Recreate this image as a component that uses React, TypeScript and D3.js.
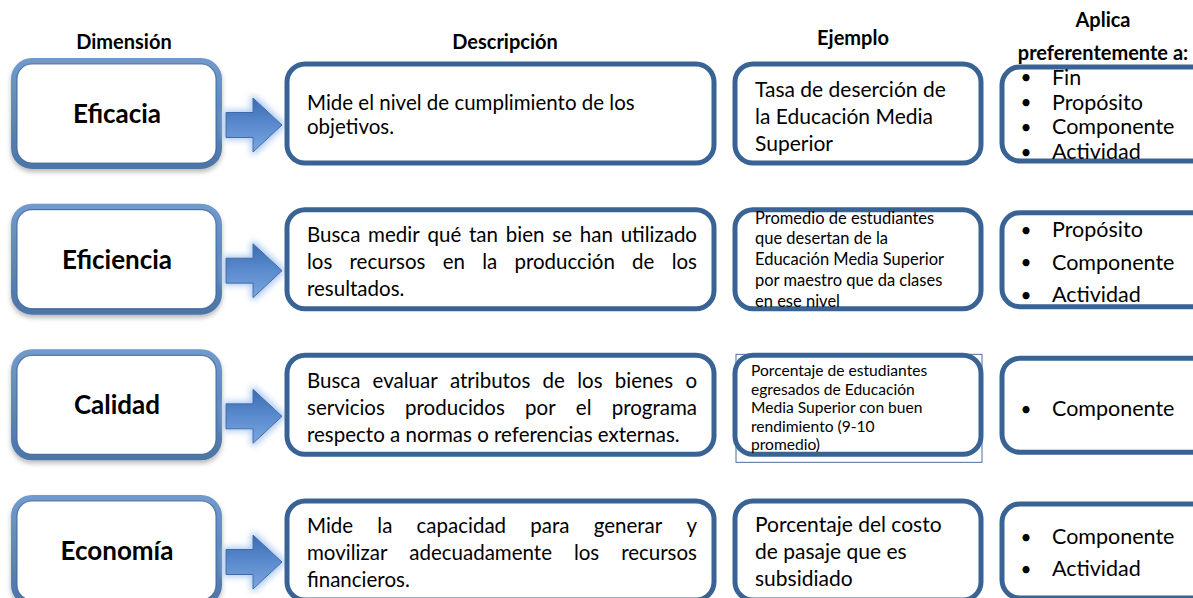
import React from "react";
import * as d3 from "d3";

const headers = [
  { lines: ["Dimensión"], x: 124, y: [41], anchor: ["middle"] },
  { lines: ["Descripción"], x: 505, y: [41], anchor: ["middle"] },
  { lines: ["Ejemplo"], x: 853, y: [37], anchor: ["middle"] },
  { lines: ["Aplica", "preferentemente a:"], x: 1103, y: [19, 52], anchor: ["middle", "middle"] },
];

const dimensions = ["Eficacia", "Eficiencia", "Calidad", "Economía"];

const descriptions = [
  ["Mide el nivel de cumplimiento de los", "objetivos."],
  ["Busca medir qué tan bien se han utilizado", "los recursos en la producción de los", "resultados."],
  ["Busca evaluar atributos de los bienes o", "servicios producidos por el programa", "respecto a normas o referencias externas."],
  ["Mide la capacidad para generar y", "movilizar adecuadamente los recursos", "financieros."],
];
const descJustified = [false, true, true, true];

const examples = [
  ["Tasa de deserción de", "la Educación Media", "Superior"],
  ["Promedio de estudiantes", "que desertan de la", "Educación Media Superior", "por maestro que da clases", "en ese nivel"],
  ["Porcentaje de estudiantes", "egresados de Educación", "Media Superior con buen", "rendimiento (9-10", "promedio)"],
  ["Porcentaje del costo", "de pasaje que es", "subsidiado"],
];

const appliesTo = [
  ["Fin", "Propósito", "Componente", "Actividad"],
  ["Propósito", "Componente", "Actividad"],
  ["Componente"],
  ["Componente", "Actividad"],
];

// layout styling
const FONT = "Lato, 'Open Sans', sans-serif";
const descStyle = [
  { c: 54, s: 24 },
  { c: 55, s: 27 },
  { c: 56, s: 27 },
  { c: 55, s: 27 },
];
const exStyle = [
  { c: 55, s: 27, size: 21, x: 755 },
  { c: 53.5, s: 20.7, size: 16.5, x: 755 },
  { c: 56, s: 18.5, size: 15.6, x: 751 },
  { c: 53, s: 27, size: 21, x: 755 },
];
const apStyle = [
  { c: 54, s: 24.7 },
  { c: 56, s: 32.5 },
  { c: 57, s: 0 },
  { c: 55, s: 32 },
];

let ctx: CanvasRenderingContext2D | null = null;
function measure(text: string, size: number, weight = "normal") {
  if (!ctx) ctx = document.createElement("canvas").getContext("2d");
  if (!ctx) return text.length * size * 0.5;
  ctx.font = `${weight} ${size}px Lato`;
  return ctx.measureText(text).width;
}

function JustLine({ text, x, y, width, size, justify }: any) {
  const w = measure(text, size);
  const words = text.split(" ");
  if (justify && words.length > 1 && w < width) {
    const ws = words.map((t: string) => measure(t, size));
    const total = d3.sum(ws);
    const gap = (width - total) / (words.length - 1);
    let cx = x;
    return (
      <g>
        {words.map((t: string, i: number) => {
          const el = (
            <text key={i} x={cx} y={y} fontSize={size} dominantBaseline="central">
              {t}
            </text>
          );
          cx += ws[i] + gap;
          return el;
        })}
      </g>
    );
  }
  return (
    <text
      x={x}
      y={y}
      fontSize={size}
      dominantBaseline="central"
      {...(w > width ? { textLength: width, lengthAdjust: "spacingAndGlyphs" } : {})}
    >
      {text}
    </text>
  );
}

export default function App() {
  const W = 1193;
  const H = 598;
  const rowY = d3.scaleLinear().domain([0, 3]).range([60, 497]);
  const stroke = "#3a6395";

  return (
    <div style={{ position: "absolute", left: 0, top: 0, width: W, height: H, overflow: "hidden", background: "#fff" }}>
      <svg width={W} height={H} style={{ display: "block", fontFamily: FONT }}>
        <defs>
          <filter id="shadow" x="-10%" y="-10%" width="120%" height="130%">
            <feDropShadow dx="0" dy="3" stdDeviation="2.5" floodColor="#000" floodOpacity="0.28" />
          </filter>
          <filter id="glow" x="-40%" y="-40%" width="180%" height="180%">
            <feMorphology in="SourceAlpha" operator="dilate" radius="2" result="d" />
            <feGaussianBlur in="d" stdDeviation="3" result="b" />
            <feFlood floodColor="#a9c8f0" floodOpacity="0.95" />
            <feComposite in2="b" operator="in" result="g" />
            <feMerge>
              <feMergeNode in="g" />
              <feMergeNode in="SourceGraphic" />
            </feMerge>
          </filter>
          <linearGradient id="arrowGrad" x1="0" y1="0" x2="0" y2="1">
            <stop offset="0" stopColor="#3c6cb0" />
            <stop offset="0.5" stopColor="#5b8bcf" />
            <stop offset="1" stopColor="#7ba7df" />
          </linearGradient>
          <linearGradient id="dimStroke" x1="0" y1="0" x2="0" y2="1">
            <stop offset="0" stopColor="#7099cc" />
            <stop offset="1" stopColor="#4d75a8" />
          </linearGradient>
        </defs>

        {headers.map((h, i) =>
          h.lines.map((l, j) => (
            <text
              key={`h${i}-${j}`}
              x={h.x}
              y={h.y[j]}
              textAnchor={h.anchor[j]}
              dominantBaseline="central"
              fontWeight="bold"
              fontSize={20}
              fill="#000"
            >
              {l}
            </text>
          ))
        )}

        {dimensions.map((d, i) => {
          const top = rowY(i);
          const ay = top + 65;
          const arrow = `M226,${ay - 12.5} L253,${ay - 12.5} L253,${ay - 27} L282,${ay} L253,${ay + 27} L253,${ay + 12.5} L226,${ay + 12.5} Z`;
          const ds = descStyle[i];
          const es = exStyle[i];
          const as = apStyle[i];
          const dl = descriptions[i];
          const el = examples[i];
          const al = appliesTo[i];
          return (
            <g key={d}>
              {/* dimension box */}
              <rect x={14} y={top + 1} width={205} height={105} rx={18} fill="#fff" stroke="url(#dimStroke)" strokeWidth={6} filter="url(#shadow)" />
              <rect x={17} y={top + 4} width={199} height={99} rx={15} fill="none" stroke="#3d6596" strokeWidth={1.2} opacity={0.8} />
              <text x={117} y={top + 53} textAnchor="middle" dominantBaseline="central" fontWeight="bold" fontSize={26}>
                {d}
              </text>

              {/* arrow */}
              <path d={arrow} fill="url(#arrowGrad)" stroke="#3d6aa8" strokeWidth={1} filter="url(#glow)" />

              {/* description */}
              <rect x={287} y={top + 4} width={427} height={99} rx={18} fill="#fff" stroke={stroke} strokeWidth={5} />
              {dl.map((line, j) => (
                <JustLine
                  key={j}
                  text={line}
                  x={307}
                  y={top + ds.c + (j - (dl.length - 1) / 2) * ds.s}
                  width={390}
                  size={20.5}
                  justify={descJustified[i] && j < dl.length - 1}
                />
              ))}

              {/* example */}
              {i === 2 && (
                <rect x={736} y={top + 3} width={246} height={108} fill="none" stroke="#4a6fa0" strokeWidth={1} />
              )}
              <rect x={735} y={top + 4} width={246} height={99} rx={18} fill={i === 2 ? "none" : "#fff"} stroke={stroke} strokeWidth={5} />
              {el.map((line, j) => (
                <JustLine
                  key={j}
                  text={line}
                  x={es.x}
                  y={top + es.c + (j - (el.length - 1) / 2) * es.s}
                  width={215}
                  size={es.size}
                  justify={false}
                />
              ))}

              {/* applies to */}
              <rect x={1002} y={top + 7} width={215} height={94} rx={18} fill="#fff" stroke={stroke} strokeWidth={5} />
              {al.map((line, j) => {
                const y = top + as.c + (j - (al.length - 1) / 2) * as.s;
                return (
                  <g key={j}>
                    <text x={1026} y={y} textAnchor="middle" dominantBaseline="central" fontSize={19}>
                      •
                    </text>
                    <text x={1052} y={y} dominantBaseline="central" fontSize={21.5}>
                      {line}
                    </text>
                  </g>
                );
              })}
            </g>
          );
        })}
      </svg>
    </div>
  );
}
